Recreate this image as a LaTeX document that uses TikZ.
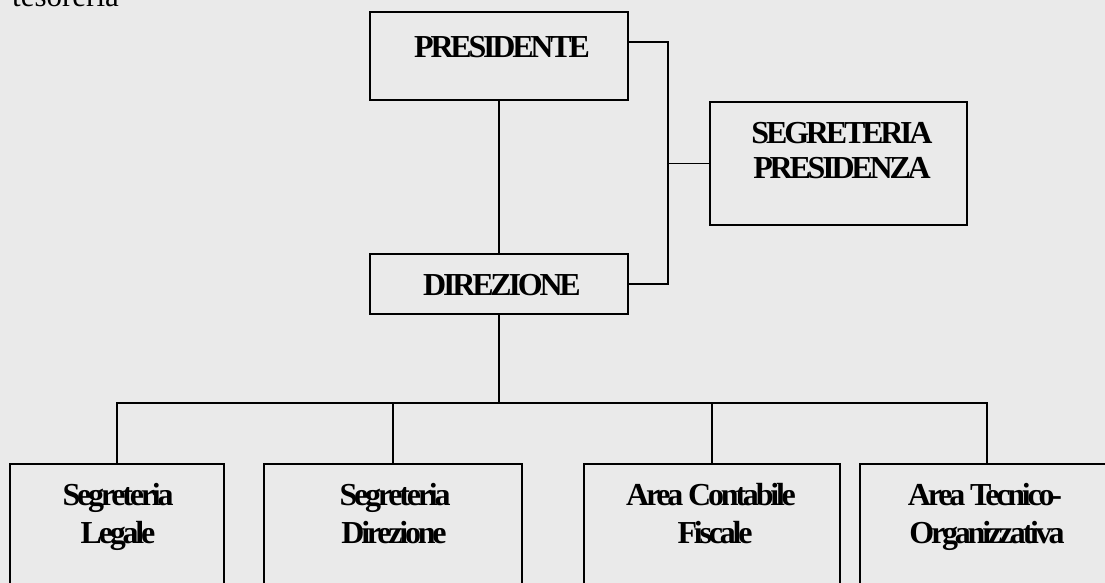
\documentclass[tikz,border=0pt]{standalone}
\usepackage{fontspec}
\setmainfont{Liberation Serif}
\usetikzlibrary{calc}
\definecolor{paper}{HTML}{EAEAEA}
\tikzset{
  unit/.style={draw=black, line width=1.6pt, fill=paper, rectangle, inner sep=0pt},
  title/.style={font=\fontsize{32}{37}\selectfont\bfseries\addfontfeature{LetterSpace=-10},
                anchor=base, inner sep=0pt},
  wire/.style={line width=1.6pt, line cap=rect}
}
\begin{document}
\begin{tikzpicture}[x=1pt, y=-1pt]
  \useasboundingbox (0,0) rectangle (1105,582);
  \clip (0,0) rectangle (1105,582);
  \fill[paper] (-20,-20) rectangle (1125,602);

  % caption line left over from the page above
  \node[anchor=base west, inner sep=0pt, font=\fontsize{31}{36}\selectfont] (tes) at (12,6) {tesoreria};

  % boxes
  \node[unit, minimum width=258pt, minimum height=88pt]  (pres) at (499,56) {};
  \node[unit, minimum width=257pt, minimum height=123pt] (segp) at (838.5,163.5) {};
  \node[unit, minimum width=258pt, minimum height=60pt]  (dir)  at (499,284) {};
  \node[unit, minimum width=214pt, minimum height=150pt] (sl)   at (117,539) {};
  \node[unit, minimum width=258pt, minimum height=150pt] (sd)   at (393,539) {};
  \node[unit, minimum width=256pt, minimum height=150pt] (acf)  at (712,539) {};
  \node[unit, minimum width=254pt, minimum height=150pt] (ato)  at (987,539) {};

  % labels
  \node[title] (t-pres) at (502,57) {PRESIDENTE};
  \node[title] (t-segp1) at (842,143) {SEGRETERIA};
  \node[title] (t-segp2) at (842,178) {PRESIDENZA};
  \node[title] (t-dir) at (502,295) {DIREZIONE};
  \node[title] (t-sl1) at (118,505) {Segreteria};
  \node[title] (t-sl2) at (118,543) {Legale};
  \node[title] (t-sd1) at (395,505) {Segreteria};
  \node[title] (t-sd2) at (394,543) {Direzione};
  \node[title] (t-acf1) at (711,505) {Area Contabile};
  \node[title] (t-acf2) at (715,543) {Fiscale};
  \node[title] (t-ato1) at (985,505) {Area Tecnico-};
  \node[title] (t-ato2) at (987,543) {Organizzativa};

  % connectors
  \coordinate (spine) at (668,0);
  \coordinate (bus) at (499,403);
  \draw[wire] (pres.south) -- (dir.north);
  \draw[wire] ([yshift=14pt]pres.east) -| (spine |- dir.east) -- (dir.east);
  \draw[wire] (segp.west) -- (segp.west -| spine);
  \draw[wire] (dir.south) -- (bus);
  \draw[wire] (sl.north |- bus) -- (ato.north |- bus);
  \foreach \b in {sl, sd, acf, ato}
    \draw[wire] (\b.north) -- (\b.north |- bus);
\end{tikzpicture}
\end{document}
